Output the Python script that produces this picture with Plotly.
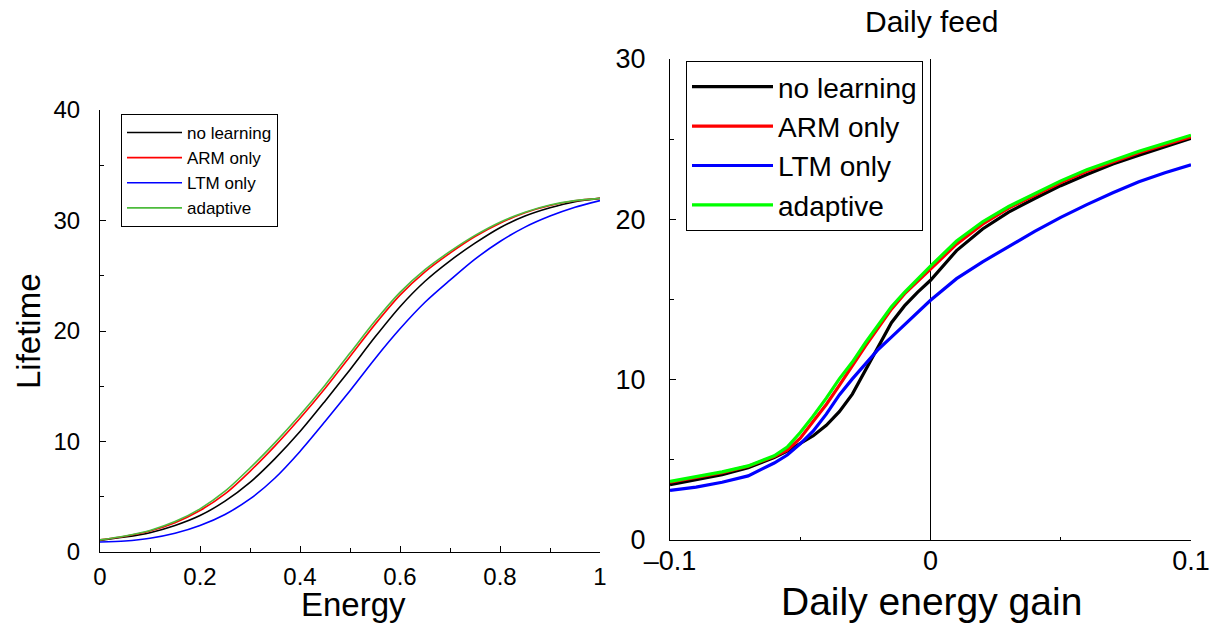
import plotly.graph_objects as go

# ---------------- Left panel data: Lifetime vs Energy ----------------
energy = [0, 0.05, 0.1, 0.15, 0.2, 0.25, 0.3, 0.35, 0.4, 0.45, 0.5,
          0.55, 0.6, 0.65, 0.7, 0.75, 0.8, 0.85, 0.9, 0.95, 1.0]
left_no_learning = [1.05, 1.35, 1.75, 2.4, 3.3, 4.6, 6.3, 8.45, 10.9, 13.65, 16.5,
                    19.45, 22.2, 24.5, 26.35, 27.95, 29.35, 30.4, 31.15, 31.7, 32.0]
left_arm_only = [1.1, 1.43, 1.9, 2.65, 3.75, 5.25, 7.3, 9.6, 12.1, 14.8, 17.7,
                 20.6, 23.25, 25.35, 27.05, 28.55, 29.75, 30.7, 31.35, 31.78, 32.0]
left_ltm_only = [0.9, 1.0, 1.25, 1.7, 2.4, 3.4, 4.8, 6.7, 9.1, 11.8, 14.6,
                 17.5, 20.2, 22.6, 24.6, 26.5, 28.1, 29.4, 30.4, 31.2, 31.8]
left_adaptive = [1.1, 1.45, 1.95, 2.75, 3.9, 5.5, 7.6, 9.9, 12.4, 15.1, 18.0,
                 20.9, 23.5, 25.55, 27.2, 28.65, 29.85, 30.75, 31.4, 31.8, 32.0]

# ---------------- Right panel data: Lifetime vs Daily energy gain ----------------
gain = [-0.1, -0.09, -0.08, -0.07, -0.06, -0.055, -0.05, -0.045, -0.04, -0.035,
        -0.03, -0.025, -0.02, -0.015, -0.01, -0.005, 0.0, 0.01, 0.02, 0.03,
        0.04, 0.05, 0.06, 0.07, 0.08, 0.09, 0.1]
right_no_learning = [3.45, 3.75, 4.08, 4.5, 5.15, 5.55, 6.0, 6.5, 7.15, 8.0,
                     9.1, 10.55, 12.1, 13.55, 14.6, 15.45, 16.2, 18.05, 19.4, 20.45,
                     21.3, 22.1, 22.8, 23.45, 24.0, 24.55, 25.05]
right_arm_only = [3.6, 3.9, 4.2, 4.6, 5.2, 5.6, 6.35, 7.4, 8.45, 9.65,
                  10.9, 12.1, 13.25, 14.4, 15.35, 16.15, 16.9, 18.45, 19.7, 20.7,
                  21.5, 22.3, 23.0, 23.6, 24.15, 24.65, 25.15]
right_ltm_only = [3.1, 3.3, 3.6, 4.0, 4.8, 5.3, 6.0, 6.8, 7.85, 9.05,
                  10.05, 10.95, 11.9, 12.65, 13.4, 14.2, 14.95, 16.3, 17.35, 18.3,
                  19.25, 20.12, 20.92, 21.66, 22.34, 22.9, 23.4]
right_adaptive = [3.65, 3.95, 4.25, 4.62, 5.25, 5.8, 6.7, 7.74, 8.85, 10.05,
                  11.1, 12.3, 13.45, 14.55, 15.45, 16.3, 17.08, 18.65, 19.85, 20.8,
                  21.6, 22.4, 23.1, 23.7, 24.25, 24.75, 25.25]

series_names = ["no learning", "ARM only", "LTM only", "adaptive"]
left_colors = ["#000000", "#ff0000", "#0000ff", "#4cbb3c"]
right_colors = ["#000000", "#ff0000", "#0000ff", "#00ff00"]

W, H = 1212, 628
FONT = "Liberation Sans, Arial, Helvetica, sans-serif"


def px_x(px):
    return px / W


def px_y(py):
    return 1 - py / H


fig = go.Figure()

left_series = [left_no_learning, left_arm_only, left_ltm_only, left_adaptive]
for name, ys, col in zip(series_names, left_series, left_colors):
    fig.add_trace(go.Scatter(
        x=energy, y=ys, mode="lines", name=name,
        line=dict(color=col, width=1.6, shape="spline", smoothing=0.8),
        xaxis="x", yaxis="y", legend="legend",
    ))

right_series = [right_no_learning, right_arm_only, right_ltm_only, right_adaptive]
for name, ys, col in zip(series_names, right_series, right_colors):
    fig.add_trace(go.Scatter(
        x=gain, y=ys, mode="lines", name=name,
        line=dict(color=col, width=3.2),
        xaxis="x2", yaxis="y2", legend="legend2",
    ))

axis_common = dict(
    showline=True, linecolor="black", linewidth=1,
    ticks="inside", tickcolor="black", tickwidth=1,
    showgrid=False,
    automargin=False,
)

fig.update_layout(
    width=W, height=H,
    margin=dict(l=0, r=0, t=0, b=0),
    paper_bgcolor="white", plot_bgcolor="white",
    font=dict(family=FONT, color="black"),
    xaxis=dict(
        domain=[px_x(100), px_x(600)], range=[0, 1], anchor="y",
        tickmode="linear", tick0=0, dtick=0.2, ticklen=6,
        minor=dict(dtick=0.1, ticks="inside", ticklen=4, tickcolor="black"),
        tickfont=dict(size=24), ticklabelstandoff=3, zeroline=False,
        **axis_common,
    ),
    yaxis=dict(
        domain=[px_y(552), px_y(110)], range=[0, 40], anchor="x",
        tickmode="linear", tick0=0, dtick=10, ticklen=6,
        minor=dict(dtick=5, ticks="inside", ticklen=4, tickcolor="black"),
        tickfont=dict(size=24), ticklabelstandoff=14, zeroline=False,
        **axis_common,
    ),
    xaxis2=dict(
        domain=[px_x(670), px_x(1191)], range=[-0.1, 0.1], anchor="y2",
        tickmode="array", tickvals=[-0.1, 0, 0.1], ticktext=["\u20130.1", "0", "0.1"],
        ticklen=6,
        minor=dict(tickvals=[-0.05, 0.05], ticks="inside", ticklen=3, tickcolor="black"),
        tickfont=dict(size=27), ticklabelstandoff=-3,
        zeroline=True, zerolinecolor="black", zerolinewidth=1,
        **axis_common,
    ),
    yaxis2=dict(
        domain=[px_y(540), px_y(59)], range=[0, 30], anchor="x2",
        tickmode="linear", tick0=0, dtick=10, ticklen=6,
        minor=dict(dtick=5, ticks="inside", ticklen=4, tickcolor="black"),
        tickfont=dict(size=27), ticklabelstandoff=18, zeroline=False,
        **axis_common,
    ),
    legend=dict(
        x=px_x(121), y=px_y(114), xanchor="left", yanchor="top",
        bgcolor="white", bordercolor="black", borderwidth=1,
        font=dict(size=17, family=FONT), itemwidth=55,
        tracegroupgap=0,
    ),
    legend2=dict(
        x=px_x(686), y=px_y(61), xanchor="left", yanchor="top",
        bgcolor="white", bordercolor="black", borderwidth=1,
        font=dict(size=28, family=FONT), itemwidth=81,
        tracegroupgap=0,
    ),
    showlegend=True,
    annotations=[
        dict(text="Energy", x=px_x(353), y=px_y(604), xref="paper", yref="paper",
             xanchor="center", yanchor="middle", showarrow=False, font=dict(size=33)),
        dict(text="Lifetime", x=px_x(28), y=px_y(331), xref="paper", yref="paper",
             xanchor="center", yanchor="middle", showarrow=False, textangle=-90,
             font=dict(size=33)),
        dict(text="Daily energy gain", x=px_x(931), y=px_y(601), xref="paper", yref="paper",
             xanchor="center", yanchor="middle", showarrow=False, font=dict(size=39)),
        dict(text="Daily feed", x=px_x(931), y=px_y(21), xref="paper", yref="paper",
             xanchor="center", yanchor="middle", showarrow=False, font=dict(size=30)),
    ],
)

fig.write_html("out.html",
               config={"displayModeBar": False},
               post_script="document.body.style.margin='0';document.body.style.overflow='hidden';")
